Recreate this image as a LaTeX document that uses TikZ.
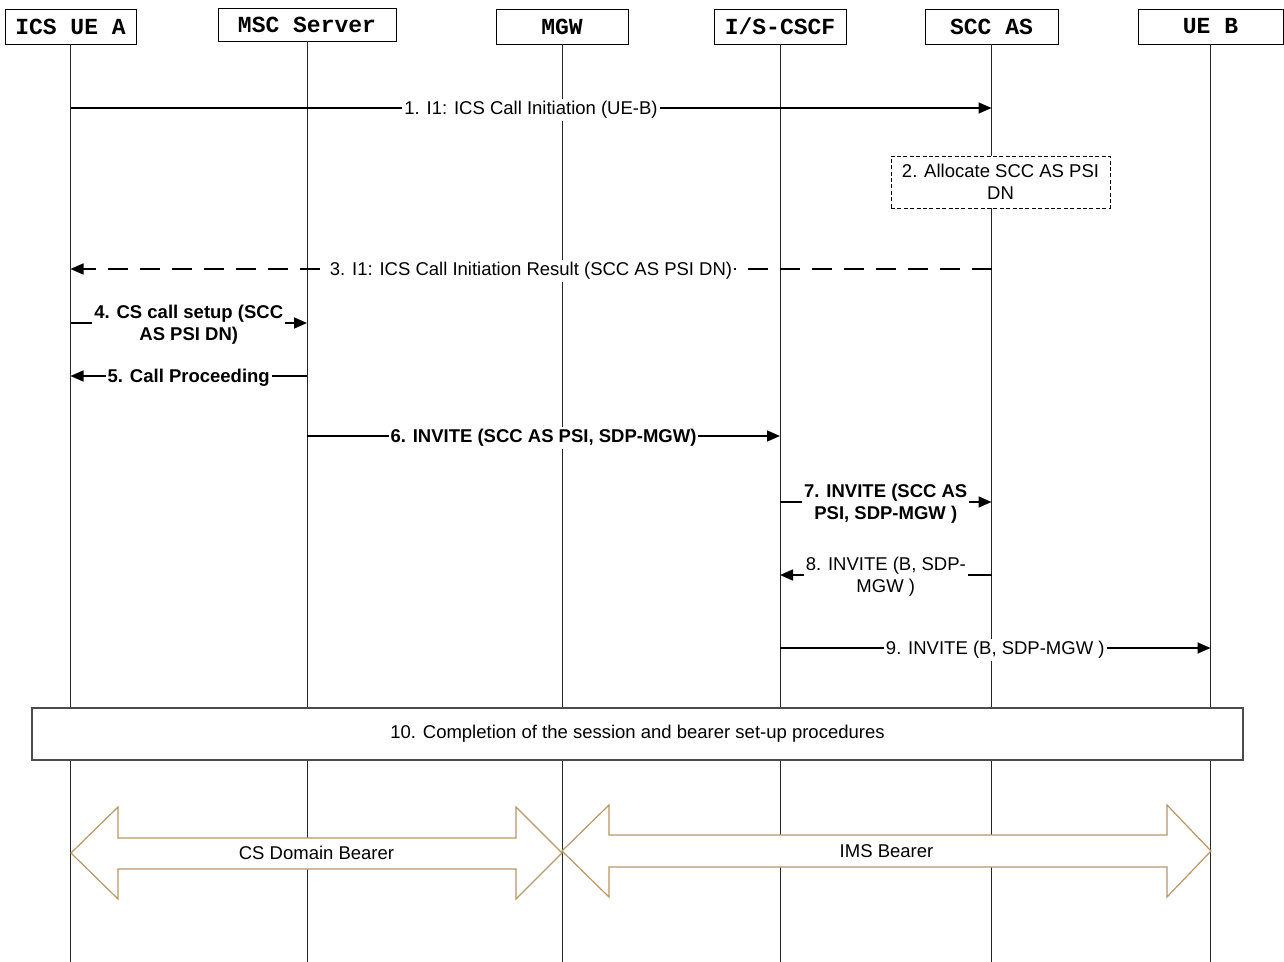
\documentclass[tikz,border=0pt]{standalone}
\usepackage{fontspec}
\setmainfont{Liberation Sans}
\newfontfamily\monofont{Liberation Mono}
\usepackage{tikz}
\usepackage{xcolor}
\usetikzlibrary{arrows.meta, positioning, calc}
\definecolor{bearerbrown}{RGB}{184,150,106}

\begin{document}
\begin{tikzpicture}[
    x=0.5pt, y=-0.5pt,
    entity/.style={rectangle, draw, fill=white, font=\monofont\bfseries\fontsize{11.5}{13}\selectfont, minimum height=17.5pt, inner sep=0pt},
    life/.style={line width=0.5pt, black!85},
    msg/.style={line width=0.8pt, -{Triangle[length=6.5pt,width=5.5pt]}},
    reply/.style={msg, dash pattern=on 10pt off 6pt},
    lbl/.style={fill=white, font=\fontsize{9.25}{11}\selectfont, align=center, inner sep=1pt, yshift=-1pt},
    lblb/.style={lbl, font=\fontsize{9.25}{11}\selectfont\bfseries},
    action/.style={rectangle, draw, fill=white, dash pattern=on 2pt off 1.2pt, line width=0.4pt, font=\fontsize{9.25}{11}\selectfont, align=center, minimum width=109.5pt, minimum height=26pt, inner sep=0pt},
    phase/.style={rectangle, draw=black!70, fill=white, line width=0.6pt, font=\fontsize{9.25}{11}\selectfont, minimum width=605.5pt, minimum height=26pt},
    bearer/.style={draw=bearerbrown, fill=white, line width=0.6pt},
    blabel/.style={font=\fontsize{9.25}{11}\selectfont, inner sep=1pt}
]
\useasboundingbox (0,0) rectangle (1284,962);

% 实体
\node[entity, minimum width=65.5pt] (uea) at (70.5,26.5) {ICS UE A};
\node[entity, minimum width=89pt, minimum height=16.5pt] (msc) at (307,24.5) {MSC Server};
\node[entity, minimum width=66pt] (mgw) at (562,26.5) {MGW};
\node[entity, minimum width=66pt] (cscf) at (780,26.5) {I/S-CSCF};
\node[entity, minimum width=66.5pt] (scc) at (991.5,26.5) {SCC AS};
\node[entity, minimum width=72.5pt] (ueb) at (1210.5,26.5) {UE B};

% 生命线
\coordinate (bottom) at (0,962);
\draw[life] (uea.south) -- (uea |- bottom);
\draw[life] (msc.south) -- (msc |- bottom);
\draw[life] (mgw.south) -- (mgw |- bottom);
\draw[life] (cscf.south) -- (cscf |- bottom);
\draw[life] (scc.south) -- (scc |- bottom);
\draw[life] (ueb.south) -- (ueb |- bottom);

% 消息行
\coordinate (r1) at (0,108);
\coordinate (r3) at (0,269);
\coordinate (r4) at (0,323);
\coordinate (r5) at (0,376);
\coordinate (r6) at (0,436);
\coordinate (r7) at (0,502);
\coordinate (r8) at (0,575);
\coordinate (r9) at (0,648);

% 消息
\draw[msg] (uea |- r1) -- node[lbl] {1. I1: ICS Call Initiation (UE-B)} (scc |- r1);
\node[action] (alloc) at (1000.5,182) {2. Allocate SCC AS PSI\\DN};
\draw[reply] (scc |- r3) -- node[lbl] {3. I1: ICS Call Initiation Result (SCC AS PSI DN)} (uea |- r3);
\draw[msg] (uea |- r4) -- node[lblb] {4. CS call setup (SCC\\AS PSI DN)} (msc |- r4);
\draw[msg] (msc |- r5) -- node[lblb] {5. Call Proceeding} (uea |- r5);
\draw[msg] (msc |- r6) -- node[lblb] {6. INVITE (SCC AS PSI, SDP-MGW)} (cscf |- r6);
\draw[msg] (cscf |- r7) -- node[lblb] {7. INVITE (SCC AS\\PSI, SDP-MGW )} (scc |- r7);
\draw[msg] (scc |- r8) -- node[lbl] {8. INVITE (B, SDP-\\MGW )} (cscf |- r8);
\draw[msg] (cscf |- r9) -- node[lbl] {9. INVITE (B, SDP-MGW )} (ueb |- r9);

% 完成
\node[phase] (done) at (637.5,734) {10. Completion of the session and bearer set-up procedures};

% 承载
\draw[bearer] (71,853) -- (118,807) -- (118,838) -- (516,838) -- (516,807) -- (562,853)
    -- (516,899) -- (516,869) -- (118,869) -- (118,899) -- cycle;
\node[blabel] (csb) at (316.5,853) {CS Domain Bearer};
\draw[bearer] (562,851) -- (609,805) -- (609,835) -- (1167,835) -- (1167,805) -- (1211,851)
    -- (1167,897) -- (1167,867) -- (609,867) -- (609,897) -- cycle;
\node[blabel] (imsb) at (886.5,851) {IMS Bearer};
\end{tikzpicture}
\end{document}
